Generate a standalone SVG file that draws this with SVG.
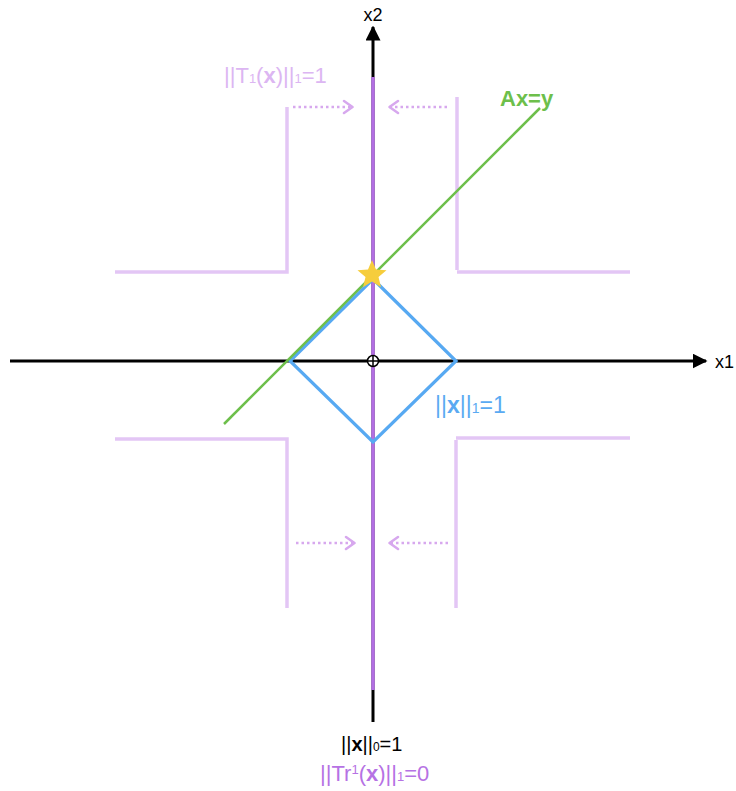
<svg xmlns="http://www.w3.org/2000/svg" width="736" height="791" viewBox="0 0 736 791">
<defs>
<marker id="ah" viewBox="0 0 10 10" refX="9" refY="5" markerWidth="5" markerHeight="5" orient="auto" markerUnits="strokeWidth">
<path d="M0,0 L10,5 L0,10 Z" fill="#000"/>
</marker>
<marker id="oa" viewBox="0 0 12 16" refX="11" refY="8" markerWidth="12" markerHeight="16" orient="auto" markerUnits="userSpaceOnUse">
<path d="M2,2 L10.5,8 L2,14" fill="none" stroke="#d7a8ee" stroke-width="2.5" stroke-linecap="round" stroke-linejoin="round"/>
</marker>
</defs>
<style>
text{font-family:"Helvetica Neue","Liberation Sans",Arial,sans-serif;}
.axis{stroke:#000;stroke-width:3;fill:none;}
.lp{stroke:#e3c6f5;stroke-width:3.5;fill:none;}
.dot{stroke:#d7a8ee;stroke-width:2.5;stroke-dasharray:2.5 3;fill:none;}
</style>
<rect width="736" height="791" fill="#fff"/>
<g id="connectors">
<line class="axis" x1="10" y1="361" x2="706" y2="361" marker-end="url(#ah)"/>
<line class="axis" x1="373" y1="722" x2="373" y2="27" marker-end="url(#ah)"/>
<line x1="373" y1="77" x2="373" y2="690" stroke="#b36ee3" stroke-width="3.5"/>
<polyline class="lp" points="115,272 287,272 287,107"/>
<polyline class="lp" points="457,97 457,270"/>
<polyline class="lp" points="457,272 630,272"/>
<polyline class="lp" points="115,439 287,439 287,608"/>
<polyline class="lp" points="456,438 630,438"/>
<polyline class="lp" points="456,440 456,608"/>
<line class="dot" x1="293" y1="107" x2="353" y2="107" marker-end="url(#oa)"/>
<line class="dot" x1="447" y1="107" x2="389" y2="107" marker-end="url(#oa)"/>
<line class="dot" x1="296" y1="543" x2="355" y2="543" marker-end="url(#oa)"/>
<line class="dot" x1="448" y1="543" x2="389" y2="543" marker-end="url(#oa)"/>
<polygon points="373,279 456,361 373,442 290,361" fill="none" stroke="#57a9f2" stroke-width="3.2" stroke-linejoin="miter"/>
<line x1="224" y1="424" x2="540" y2="108" stroke="#6dbf4b" stroke-width="2.5"/>
</g>
<g id="origin">
<circle cx="373" cy="361" r="5.5" fill="#fff" stroke="#000" stroke-width="1.5"/>
<line x1="367" y1="361" x2="379" y2="361" stroke="#000" stroke-width="1.5"/>
<line x1="373" y1="355" x2="373" y2="367" stroke="#000" stroke-width="1.5"/>
</g>
<g id="star">
<polygon points="372,260 376,269.6 386.5,270.3 378.5,277 381,287.2 372,281.6 363,287.2 365.5,277 357.5,270.3 368,269.6" fill="#f6cd3c"/>
</g>
<g id="labels">
<text x="373" y="21" font-size="18" text-anchor="middle" fill="#000">x2</text>
<text x="715" y="368" font-size="18" fill="#000">x1</text>
<text x="224" y="83" font-size="22" fill="#dcb6f2">||T<tspan font-size="13">1</tspan>(<tspan font-weight="bold">x</tspan>)||<tspan font-size="13">1</tspan>=1</text>
<text x="500" y="106" font-size="22" font-weight="bold" fill="#6dbf4b">Ax=y</text>
<text x="435" y="413" font-size="23" fill="#5aaaf2">||<tspan font-weight="bold">x</tspan>||<tspan font-size="14">1</tspan>=1</text>
<text x="341" y="751" font-size="20" fill="#000">||<tspan font-weight="bold">x</tspan>||<tspan font-size="12">0</tspan>=1</text>
<text x="320" y="781" font-size="22" fill="#b672e4">||Tr<tspan font-size="13" dy="-7">1</tspan><tspan dy="7">(</tspan><tspan font-weight="bold">x</tspan>)||<tspan font-size="13">1</tspan>=0</text>
</g>
</svg>
